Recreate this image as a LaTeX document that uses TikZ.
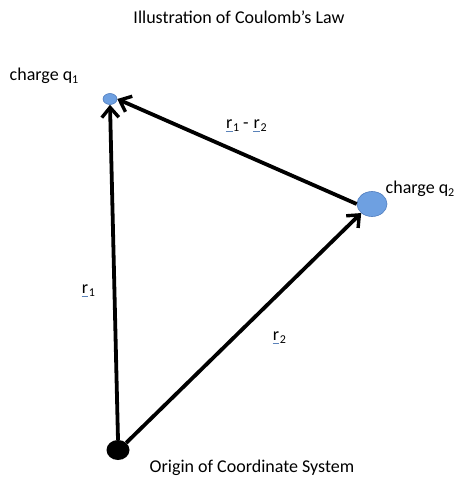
\documentclass[tikz,border=0pt]{standalone}
\usepackage{fontspec}
\setmainfont{Carlito}
\usetikzlibrary{arrows.meta,shapes.geometric}
\definecolor{qblue}{RGB}{110,160,225}
\definecolor{qedge}{RGB}{80,125,190}
\definecolor{ulblue}{RGB}{90,130,185}
\newcommand{\ur}{\tikz[baseline=0pt]{\node[inner sep=0pt,anchor=base] (u) {r};\draw[ulblue,line width=1pt] ([yshift=-2.4pt]u.base west) -- ([yshift=-2.4pt]u.base east);}}
\newcommand{\sub}[1]{\raisebox{-0.3ex}{\fontsize{12}{13}\selectfont #1}}
\begin{document}
\begin{tikzpicture}[x=1pt,y=-1pt,
  lbl/.style={font=\fontsize{18}{21}\selectfont, inner sep=0pt},
  vec/.style={line width=3.8pt, -{Straight Barb[length=10pt,width=17pt,line width=3.4pt]}},
  charge/.style={ellipse, fill=qblue, draw=qedge, line width=0.6pt, inner sep=0pt}]
\useasboundingbox (0,0) rectangle (465,482);
\node[lbl] (title) at (239,17) {Illustration of Coulomb’s Law};
\node[charge, minimum width=14pt, minimum height=11pt] (q1) at (110,99) {};
\node[charge, minimum width=30pt, minimum height=25pt] (q2) at (372,204) {};
\node[ellipse, fill=black, inner sep=0pt, minimum width=23pt, minimum height=20pt] (o) at (118,450) {};
\node[lbl] (lq1) at (44,76) {charge q\sub{1}};
\node[lbl] (lq2) at (420,189) {charge q\sub{2}};
\node[lbl] (ldiff) at (246,126) {\ur\sub{1} - \ur\sub{2}};
\node[lbl] (lr1) at (88,291) {\ur\sub{1}};
\node[lbl] (lr2) at (279,338) {\ur\sub{2}};
\node[lbl] (lorig) at (252,468) {Origin of Coordinate System};
\draw[vec] (o.north) -- (q1.south);
\draw[vec] (o.north east) -- (q2.south west);
\draw[vec] (q2.west) -- (q1.east);
\end{tikzpicture}
\end{document}
